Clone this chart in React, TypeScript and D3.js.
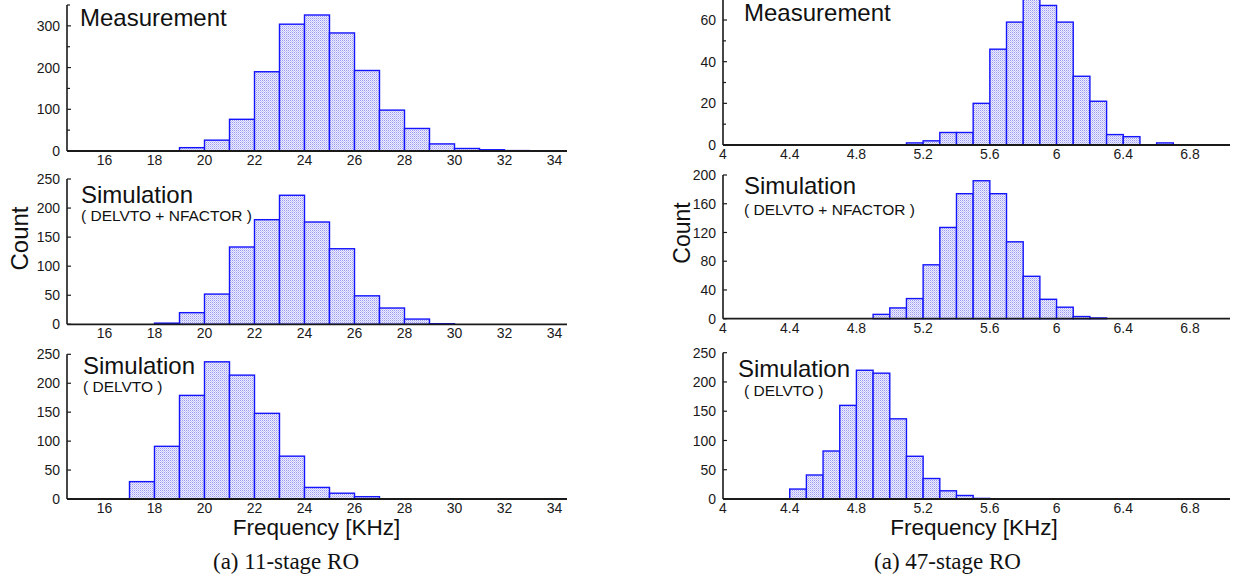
import React from 'react';
import * as d3 from 'd3';

// ---------- data ----------
// 11-stage RO (bin width 1 KHz, values = left bin edge)
const meas11Edges = [19, 20, 21, 22, 23, 24, 25, 26, 27, 28, 29, 30, 31, 32];
const meas11Counts = [8, 26, 76, 190, 304, 326, 283, 193, 98, 54, 17, 6, 3, 1];
const simNF11Edges = [17, 18, 19, 20, 21, 22, 23, 24, 25, 26, 27, 28, 29, 30];
const simNF11Counts = [0, 2, 20, 52, 133, 180, 222, 176, 130, 49, 28, 9, 1, 0];
const simD11Edges = [17, 18, 19, 20, 21, 22, 23, 24, 25, 26];
const simD11Counts = [30, 91, 179, 237, 214, 148, 74, 20, 10, 4];

// 47-stage RO (bin width 0.1 KHz)
const meas47Edges = [5.0, 5.1, 5.2, 5.3, 5.4, 5.5, 5.6, 5.7, 5.8, 5.9, 6.0, 6.1, 6.2, 6.3, 6.4, 6.6];
const meas47Counts = [0, 1, 2, 6, 6, 20, 46, 59, 71, 67, 59, 33, 21, 5, 4, 1];
const simNF47Edges = [4.8, 4.9, 5.0, 5.1, 5.2, 5.3, 5.4, 5.5, 5.6, 5.7, 5.8, 5.9, 6.0, 6.1, 6.2];
const simNF47Counts = [0, 6, 15, 28, 75, 127, 174, 192, 174, 107, 59, 27, 16, 3, 1];
const simD47Edges = [4.4, 4.5, 4.6, 4.7, 4.8, 4.9, 5.0, 5.1, 5.2, 5.3, 5.4, 5.5, 5.6];
const simD47Counts = [17, 41, 82, 160, 220, 215, 137, 73, 35, 14, 6, 1, 0];
const simD47OutlierEdges = [4.0];
const simD47OutlierCounts = [0];

const leftXTicks = [16, 18, 20, 22, 24, 26, 28, 30, 32, 34];
const rightXTicks = [4, 4.4, 4.8, 5.2, 5.6, 6, 6.4, 6.8];
const meas11YTicks = [0, 100, 200, 300];
const meas11YMinor = [50, 150, 250, 350];
const sim11YTicks = [0, 50, 100, 150, 200, 250];
const meas47YTicks = [0, 20, 40, 60];
const meas47YMinor = [10, 30, 50];
const simNF47YTicks = [0, 40, 80, 120, 160, 200];
const simD47YTicks = [0, 50, 100, 150, 200, 250];

const SANS = '"Liberation Sans", Arial, Helvetica, sans-serif';
const SERIF = '"Liberation Serif", "Times New Roman", serif';

type PanelProps = {
  xDomain: [number, number];
  xRange: [number, number];
  yDomain: [number, number];
  yRange: [number, number];
  binWidth: number;
  edges: number[];
  counts: number[];
  xTicks: number[];
  yTicks: number[];
  yMinor?: number[];
  extraEdges?: number[];
  extraCounts?: number[];
  title: string;
  subtitle?: string;
  titlePos: [number, number];
  subPos?: [number, number];
  xFmt: (v: number) => string;
};

function Panel(p: PanelProps) {
  const x = d3.scaleLinear().domain(p.xDomain).range(p.xRange);
  const y = d3.scaleLinear().domain(p.yDomain).range(p.yRange);
  const base = y(0);
  const ax = p.xRange[0];
  return (
    <g>
      {p.edges.map((e, i) => {
        const x0 = x(e);
        const x1 = x(e + p.binWidth);
        const yt = y(p.counts[i]);
        return (
          <rect
            key={i}
            x={x0}
            y={yt}
            width={x1 - x0}
            height={Math.max(0, base - yt)}
            fill="url(#stipple)"
            stroke="#1414ff"
            strokeWidth={1.4}
          />
        );
      })}
      {/* axes */}
      <line x1={ax} x2={ax} y1={p.yRange[1]} y2={base} stroke="#1a1a1a" strokeWidth={1.6} />
      <line x1={ax} x2={p.xRange[1]} y1={base} y2={base} stroke="#1a1a1a" strokeWidth={1.8} />
      {(p.extraEdges || []).map((e, i) => (
        <rect
          key={'x' + i}
          x={x(e)}
          y={y((p.extraCounts || [])[i])}
          width={x(e + p.binWidth) - x(e)}
          height={Math.max(0, base - y((p.extraCounts || [])[i]))}
          fill="none"
          stroke="#8b1010"
          strokeWidth={1.8}
        />
      ))}
      {p.yTicks.map((t) => (
        <g key={'yt' + t}>
          <line x1={ax} x2={ax + 4} y1={y(t)} y2={y(t)} stroke="#1a1a1a" strokeWidth={1.2} />
          <text x={ax - 7} y={y(t)} dy="0.36em" textAnchor="end" fontSize={14} fill="#1a1a1a" fontFamily={SANS}>
            {t}
          </text>
        </g>
      ))}
      {(p.yMinor || []).map((t) => (
        <line key={'ym' + t} x1={ax} x2={ax + 3} y1={y(t)} y2={y(t)} stroke="#1a1a1a" strokeWidth={1.2} />
      ))}
      {p.xTicks.map((t) => (
        <text key={'xt' + t} x={x(t)} y={base + 9} dy="0.36em" textAnchor="middle" fontSize={14} fill="#1a1a1a" fontFamily={SANS}>
          {p.xFmt(t)}
        </text>
      ))}
      <text x={p.titlePos[0]} y={p.titlePos[1]} fontSize={24} fill="#111" fontFamily={SANS}>
        {p.title}
      </text>
      {p.subtitle && p.subPos && (
        <text x={p.subPos[0]} y={p.subPos[1]} fontSize={15.5} fill="#111" fontFamily={SANS}>
          {p.subtitle}
        </text>
      )}
    </g>
  );
}

export default function App() {
  const leftX: [number, number] = [14.5, 34.5];
  const leftR: [number, number] = [67, 567];
  const rightX: [number, number] = [4, 7.04];
  const rightR: [number, number] = [723, 1230];
  const fmt = (v: number) => d3.format('~g')(v);
  return (
    <svg width={1233} height={582} style={{ position: 'absolute', left: 0, top: 0, background: '#fff' }}>
      <defs>
        <pattern id="stipple" width={2} height={2} patternUnits="userSpaceOnUse">
          <rect width={2} height={2} fill="#eeeefd" />
          <rect x={0} y={0} width={1} height={1} fill="#9a9af4" />
          <rect x={1} y={1} width={1} height={1} fill="#c4c4f8" />
        </pattern>
      </defs>
      <rect width={1233} height={582} fill="#fff" />

      {/* Left column: 11-stage RO */}
      <Panel xDomain={leftX} xRange={leftR} yDomain={[0, 350]} yRange={[151, 5]} binWidth={1}
        edges={meas11Edges} counts={meas11Counts} xTicks={leftXTicks} yTicks={meas11YTicks} yMinor={meas11YMinor}
        title="Measurement" titlePos={[80, 26]} xFmt={fmt} />
      <Panel xDomain={leftX} xRange={leftR} yDomain={[0, 250]} yRange={[324.3, 179]} binWidth={1}
        edges={simNF11Edges} counts={simNF11Counts} xTicks={leftXTicks} yTicks={sim11YTicks}
        title="Simulation" subtitle="( DELVTO + NFACTOR )" titlePos={[81, 202.5]} subPos={[81, 221]} xFmt={fmt} />
      <Panel xDomain={leftX} xRange={leftR} yDomain={[0, 250]} yRange={[499, 354.3]} binWidth={1}
        edges={simD11Edges} counts={simD11Counts} xTicks={leftXTicks} yTicks={sim11YTicks}
        title="Simulation" subtitle="( DELVTO )" titlePos={[83, 374]} subPos={[83, 392]} xFmt={fmt} />

      {/* Right column: 47-stage RO */}
      <Panel xDomain={rightX} xRange={rightR} yDomain={[0, 70]} yRange={[145, -0.8]} binWidth={0.1}
        edges={meas47Edges} counts={meas47Counts} xTicks={rightXTicks} yTicks={meas47YTicks} yMinor={meas47YMinor}
        title="Measurement" titlePos={[744, 20.5]} xFmt={fmt} />
      <Panel xDomain={rightX} xRange={rightR} yDomain={[0, 200]} yRange={[318.7, 175]} binWidth={0.1}
        edges={simNF47Edges} counts={simNF47Counts} xTicks={rightXTicks} yTicks={simNF47YTicks}
        title="Simulation" subtitle="( DELVTO + NFACTOR )" titlePos={[744, 194.3]} subPos={[744, 215]} xFmt={fmt} />
      <Panel xDomain={rightX} xRange={rightR} yDomain={[0, 250]} yRange={[499, 352.7]} binWidth={0.1}
        edges={simD47Edges} counts={simD47Counts} xTicks={rightXTicks} yTicks={simD47YTicks}
        extraEdges={simD47OutlierEdges} extraCounts={simD47OutlierCounts}
        title="Simulation" subtitle="( DELVTO )" titlePos={[738, 376.7]} subPos={[744, 395.7]} xFmt={fmt} />

      {/* Axis titles */}
      <text transform="translate(28,238.5) rotate(-90)" textAnchor="middle" fontSize={24} fill="#111" fontFamily={SANS}>Count</text>
      <text transform="translate(690,233) rotate(-90)" textAnchor="middle" fontSize={23} fill="#111" fontFamily={SANS}>Count</text>
      <text x={316.5} y={535} textAnchor="middle" fontSize={22.5} fill="#111" fontFamily={SANS}>Frequency [KHz]</text>
      <text x={974} y={535} textAnchor="middle" fontSize={22.5} fill="#111" fontFamily={SANS}>Frequency [KHz]</text>

      {/* Captions */}
      <text x={286} y={569} textAnchor="middle" fontSize={23} fill="#111" fontFamily={SERIF}>(a) 11-stage RO</text>
      <text x={947.5} y={569} textAnchor="middle" fontSize={23} fill="#111" fontFamily={SERIF}>(a) 47-stage RO</text>
    </svg>
  );
}
